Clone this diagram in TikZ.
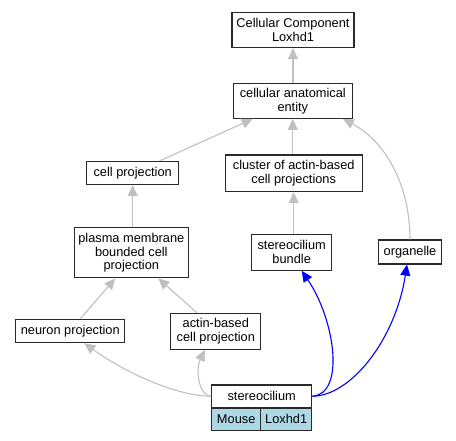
\documentclass[tikz,border=0pt]{standalone}
\usepackage{fontspec}
\setmainfont{Liberation Sans}
\usetikzlibrary{arrows.meta,calc}
\definecolor{edgegray}{HTML}{C0C0C0}
\definecolor{lblue}{HTML}{ADD8E6}
\definecolor{boxline}{HTML}{2A2A2A}
\begin{document}
\begin{tikzpicture}[x=1pt,y=-1pt,
  box/.style={draw=boxline,line width=1.2pt,fill=white,rectangle,inner sep=0pt,align=center,
    font=\fontsize{12.8}{13.8}\selectfont},
  cell/.style={box,fill=lblue},
  isa/.style={draw=edgegray,line width=1.1pt,-{Triangle[length=11pt,width=10pt]}},
  blueedge/.style={draw=blue,line width=1.1pt,-{Triangle[length=11pt,width=10pt]}}]
\useasboundingbox[fill=white] (0,0) rectangle (456,440);
% nodes
\node[box,minimum width=122pt,minimum height=35pt] (cc) at (293,30) {Cellular Component\\Loxhd1};
\node[box,minimum width=119pt,minimum height=35pt] (cae) at (292.8,100.8) {cellular anatomical\\entity};
\node[box,minimum width=92pt,minimum height=23pt] (cp) at (132.7,173) {cell projection};
\node[box,minimum width=137pt,minimum height=36.5pt] (cl) at (293.7,173.3) {cluster of actin-based\\cell projections};
\node[box,minimum width=114pt,minimum height=50pt] (pm) at (131.3,252.8) {plasma membrane\\bounded cell\\projection};
\node[box,minimum width=80pt,minimum height=36pt] (sb) at (291.7,252.2) {stereocilium\\bundle};
\node[box,minimum width=63pt,minimum height=24pt] (org) at (410,252) {organelle};
\node[box,minimum width=109pt,minimum height=23.4pt] (np) at (70.3,331) {neuron projection};
\node[box,minimum width=90pt,minimum height=36pt] (ab) at (215.8,331.3) {actin-based\\cell projection};
\node[box,minimum width=100pt,minimum height=22.3pt] (st) at (261.7,396.2) {stereocilium};
\node[cell,minimum width=49pt,minimum height=21.7pt,anchor=north west] (mo) at (st.south west) {Mouse};
\node[cell,minimum width=51pt,minimum height=21.7pt,anchor=north east] (lx) at (st.south east) {Loxhd1};
% gray is_a edges
\draw[isa] (cae.north -| cc) -- (cc.south);
\draw[isa] (cp) -- (cae);
\draw[isa] (cl.north -| cae) -- (cae.south);
\draw[isa] (org.north) .. controls ($(org.north)+(0,-55)$) and ($(cae.south east)+(32,22)$) .. ($(cae.south east)+(-10,0)$);
\draw[isa] (pm.north -| cp) -- (cp.south);
\draw[isa] (sb.north -| cl) -- (cl.south);
\draw[isa] ($(np.north)+(10,0)$) -- ($(pm.south)+(-16,0)$);
\draw[isa] ($(ab.north)+(-19,0)$) -- ($(pm.south)+(27,0)$);
\draw[isa] (st.west) .. controls ($(st.west)+(-32,0)$) and ($(st.west)+(-82,-21)$) .. ($(np.south)+(14,0)$);
\draw[isa] (st.west) .. controls ($(st.west)+(-12,0)$) and ($(st.west)+(-16,-26)$) .. ($(ab.south)+(-11,0)$);
% blue edges
\draw[blueedge] (st.east) .. controls ($(st.east)+(33,-2)$) and ($(st.east)+(23,-76)$) .. ($(sb.south)+(10,0)$);
\draw[blueedge] (st.east) .. controls ($(st.east)+(38,0)$) and ($(st.east)+(83,-56)$) .. ($(org.south)+(-3,0)$);
\end{tikzpicture}
\end{document}
